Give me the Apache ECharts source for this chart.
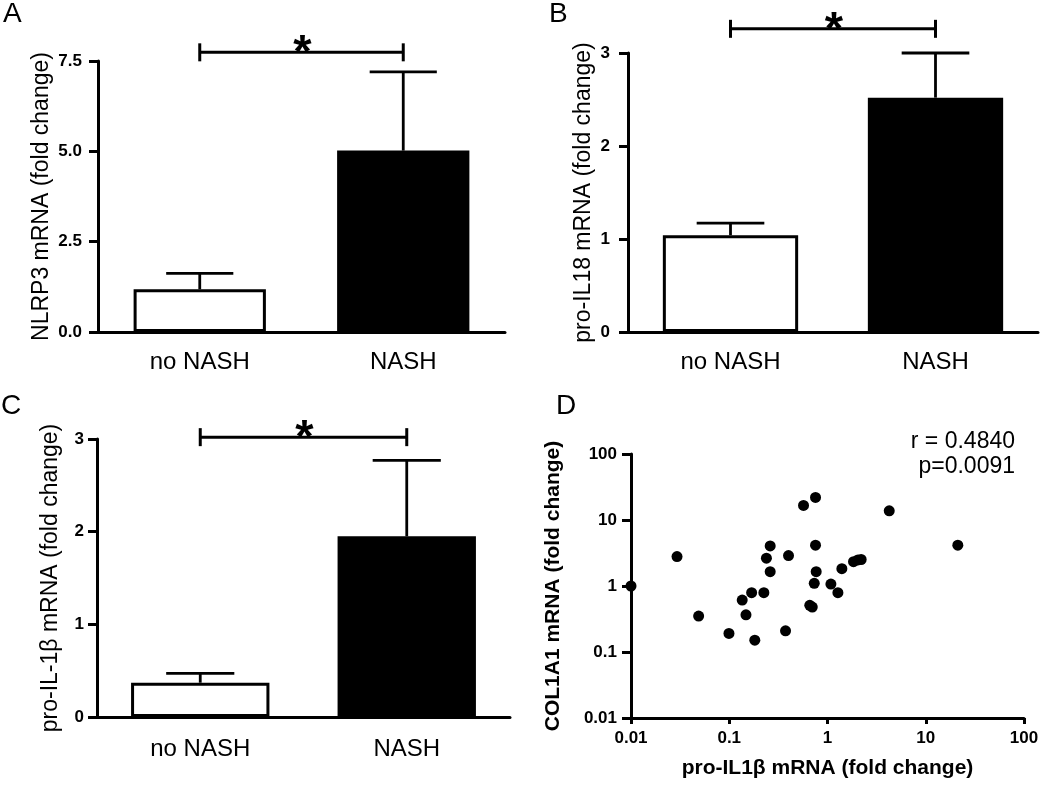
<!DOCTYPE html>
<html>
<head>
<meta charset="utf-8">
<script src="https://cdn.jsdelivr.net/npm/echarts@6/dist/echarts.min.js"></script>
<style>
  html, body { margin: 0; padding: 0; background: #fff; }
  #chart { width: 1050px; height: 785px; }
</style>
</head>
<body>
<div id="chart"></div>
<script>
// ---------- data ----------
var categories = ['no NASH', 'NASH'];

var nlrp3Mean = [1.18, 5.02];
var nlrp3ErrTop = [1.62, 7.20];
var nlrp3SigLevel = 7.74;

var il18Mean = [1.04, 2.52];
var il18ErrTop = [1.17, 3.00];
var il18SigLevel = 3.26;

var il1bMean = [0.37, 1.95];
var il1bErrTop = [0.47, 2.77];
var il1bSigLevel = 3.02;

var scatterX = [0.01, 0.0294, 0.0488, 0.0993, 0.1355, 0.148, 0.169, 0.182, 0.225, 0.239, 0.261, 0.261, 0.374, 0.401, 0.570, 0.755, 0.755, 0.767, 0.733, 0.66, 0.70, 1.083, 1.276, 1.40, 1.84, 2.04, 2.20, 4.25, 21.2];
var scatterY = [1.0, 2.79, 0.35, 0.191, 0.612, 0.366, 0.792, 0.151, 0.792, 2.64, 4.05, 1.65, 0.209, 2.89, 16.6, 22.0, 4.15, 1.65, 1.10, 0.51, 0.48, 1.07, 0.792, 1.83, 2.34, 2.48, 2.52, 13.8, 4.15];
var logTickLabels = ['0.01', '0.1', '1', '10', '100'];

var panelLetters = ['A', 'B', 'C', 'D'];
var statsText = ['r = 0.4840', 'p=0.0091'];

// ---------- helpers ----------
var FONT = 'Liberation Sans, Arial, Helvetica, sans-serif';
var BLACK = '#000';

function barData(means) {
  return means.map(function (v, i) {
    return {
      value: v,
      itemStyle: { color: i === 0 ? '#fff' : BLACK, borderColor: BLACK, borderWidth: 3 }
    };
  });
}
function errData(means, tops) {
  return means.map(function (v, i) { return [i, v, tops[i]]; });
}
function errRender(params, api) {
  var p0 = api.coord([api.value(0), api.value(1)]);
  var p1 = api.coord([api.value(0), api.value(2)]);
  var half = api.size([1, 0])[0] * 0.165;
  var st = { stroke: BLACK, lineWidth: 2.8 };
  return {
    type: 'group',
    children: [
      { type: 'line', shape: { x1: p0[0], y1: p0[1], x2: p1[0], y2: p1[1] }, style: st },
      { type: 'line', shape: { x1: p1[0] - half, y1: p1[1], x2: p1[0] + half, y2: p1[1] }, style: st }
    ]
  };
}
function sigRender(params, api) {
  var a = api.coord([api.value(0), api.value(2)]);
  var b = api.coord([api.value(1), api.value(2)]);
  var st = { stroke: BLACK, lineWidth: 3 };
  return {
    type: 'group',
    children: [
      { type: 'line', shape: { x1: a[0], y1: a[1], x2: b[0], y2: b[1] }, style: st },
      { type: 'line', shape: { x1: a[0], y1: a[1] - 9, x2: a[0], y2: a[1] + 9 }, style: st },
      { type: 'line', shape: { x1: b[0], y1: b[1] - 9, x2: b[0], y2: b[1] + 9 }, style: st },
      { type: 'text', style: { text: '*', x: (a[0] + b[0]) / 2 + 1, y: a[1] + 2, align: 'center', verticalAlign: 'middle',
          font: 'bold 47px ' + FONT, fill: BLACK } }
    ]
  };
}

function catAxis(gi, margin) {
  return {
    type: 'category', gridIndex: gi, data: categories,
    axisLine: { lineStyle: { color: BLACK, width: 3 } },
    axisTick: { alignWithLabel: true, length: 8, lineStyle: { color: BLACK, width: 3 } },
    axisLabel: { color: BLACK, fontSize: 24, fontFamily: FONT, margin: margin }
  };
}
function valAxis(gi, max, interval, name, gap, labelMargin, fmt) {
  return {
    type: 'value', gridIndex: gi, min: 0, max: max, interval: interval,
    name: name, nameLocation: 'middle', nameRotate: 90, nameGap: gap,
    nameTextStyle: { color: BLACK, fontSize: 23, fontFamily: FONT },
    axisLine: { show: true, lineStyle: { color: BLACK, width: 3 } },
    axisTick: { show: true, length: 9, lineStyle: { color: BLACK, width: 3 } },
    axisLabel: { color: BLACK, fontSize: 17, fontWeight: 'bold', fontFamily: FONT, margin: labelMargin, formatter: fmt },
    splitLine: { show: false }
  };
}
function logFmt(v) {
  var idx = Math.round(Math.log10(v)) + 2;
  return logTickLabels[idx] !== undefined ? logTickLabels[idx] : '';
}

var option = {
  backgroundColor: '#fff',
  animation: false,
  textStyle: { fontFamily: FONT },
  grid: [
    { left: 98, top: 61, width: 407, height: 271 },
    { left: 628, top: 53, width: 410, height: 279 },
    { left: 97, top: 439, width: 413, height: 278 },
    { left: 631, top: 454, width: 393, height: 264 }
  ],
  xAxis: [
    catAxis(0, 18),
    catAxis(1, 18),
    catAxis(2, 20),
    {
      type: 'log', logBase: 10, gridIndex: 3, min: 0.01, max: 100,
      name: 'pro-IL1β mRNA (fold change)', nameLocation: 'middle', nameGap: 40,
      nameTextStyle: { color: BLACK, fontSize: 21, fontWeight: 'bold', fontFamily: FONT },
      axisLine: { lineStyle: { color: BLACK, width: 3 } },
      axisTick: { length: 6, lineStyle: { color: BLACK, width: 3 } },
      axisLabel: { color: BLACK, fontSize: 17, fontWeight: 'bold', fontFamily: FONT, margin: 12, formatter: logFmt },
      minorTick: { show: false },
      splitLine: { show: false }
    }
  ],
  yAxis: [
    valAxis(0, 7.5, 2.5, 'NLRP3 mRNA (fold change)', 45, 16, function (v) { return v.toFixed(1); }),
    valAxis(1, 3, 1, 'pro-IL18 mRNA (fold change)', 33, 18),
    valAxis(2, 3, 1, 'pro-IL-1β mRNA (fold change)', 35, 13),
    {
      type: 'log', logBase: 10, gridIndex: 3, min: 0.01, max: 100,
      name: 'COL1A1 mRNA (fold change)', nameLocation: 'middle', nameRotate: 90, nameGap: 67,
      nameTextStyle: { color: BLACK, fontSize: 21, fontWeight: 'bold', fontFamily: FONT },
      axisLine: { show: true, lineStyle: { color: BLACK, width: 3 } },
      axisTick: { show: true, length: 9, lineStyle: { color: BLACK, width: 3 } },
      axisLabel: { color: BLACK, fontSize: 17, fontWeight: 'bold', fontFamily: FONT, margin: 14, formatter: logFmt },
      splitLine: { show: false }
    }
  ],
  series: [
    { type: 'bar', xAxisIndex: 0, yAxisIndex: 0, barWidth: '65%', data: barData(nlrp3Mean), z: 2 },
    { type: 'custom', xAxisIndex: 0, yAxisIndex: 0, renderItem: errRender, data: errData(nlrp3Mean, nlrp3ErrTop), z: 1 },
    { type: 'custom', xAxisIndex: 0, yAxisIndex: 0, renderItem: sigRender, clip: false, encode: { x: [0, 1], y: 2 }, data: [[0, 1, nlrp3SigLevel]], z: 3 },

    { type: 'bar', xAxisIndex: 1, yAxisIndex: 1, barWidth: '66%', data: barData(il18Mean), z: 2 },
    { type: 'custom', xAxisIndex: 1, yAxisIndex: 1, renderItem: errRender, data: errData(il18Mean, il18ErrTop), z: 1 },
    { type: 'custom', xAxisIndex: 1, yAxisIndex: 1, renderItem: sigRender, clip: false, encode: { x: [0, 1], y: 2 }, data: [[0, 1, il18SigLevel]], z: 3 },

    { type: 'bar', xAxisIndex: 2, yAxisIndex: 2, barWidth: '67%', data: barData(il1bMean), z: 2 },
    { type: 'custom', xAxisIndex: 2, yAxisIndex: 2, renderItem: errRender, data: errData(il1bMean, il1bErrTop), z: 1 },
    { type: 'custom', xAxisIndex: 2, yAxisIndex: 2, renderItem: sigRender, clip: false, encode: { x: [0, 1], y: 2 }, data: [[0, 1, il1bSigLevel]], z: 3 },

    {
      type: 'scatter', xAxisIndex: 3, yAxisIndex: 3, symbol: 'circle', symbolSize: 11,
      itemStyle: { color: BLACK, opacity: 1 }, clip: false, z: 5,
      data: scatterX.map(function (x, i) { return [x, scatterY[i]]; })
    }
  ],
  graphic: [
    { type: 'text', left: 3, top: 0, style: { text: panelLetters[0], font: '28px ' + FONT, fill: BLACK } },
    { type: 'text', left: 549, top: 0, style: { text: panelLetters[1], font: '28px ' + FONT, fill: BLACK } },
    { type: 'text', left: 1, top: 392, style: { text: panelLetters[2], font: '28px ' + FONT, fill: BLACK } },
    { type: 'text', left: 556, top: 392, style: { text: panelLetters[3], font: '28px ' + FONT, fill: BLACK } },
    { type: 'text', x: 1015, y: 442, style: { text: statsText[0], align: 'right', verticalAlign: 'middle', font: '23px ' + FONT, fill: BLACK } },
    { type: 'text', x: 1015, y: 467, style: { text: statsText[1], align: 'right', verticalAlign: 'middle', font: '23px ' + FONT, fill: BLACK } }
  ]
};

var chart = echarts.init(document.getElementById('chart'), null, { renderer: 'canvas' });
chart.setOption(option);
</script>
</body>
</html>
